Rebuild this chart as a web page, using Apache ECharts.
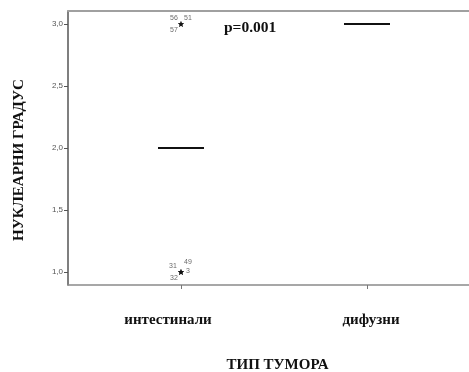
<!DOCTYPE html>
<html>
<head>
<meta charset="utf-8">
<script src="https://cdn.jsdelivr.net/npm/echarts@6/dist/echarts.min.js"></script>
<style>
  html, body { margin: 0; padding: 0; background: #fff; }
  #chart { width: 469px; height: 372px; }
</style>
</head>
<body>
<div id="chart"></div>
<script>
// Tumour type groups and their positions on the x scale
const categories = ['интестинали', 'дифузни'];
const categoryPos = [1, 2];

// Median nuclear grade per group (boxes collapse to the median: IQR = 0)
const medians = [2, 3];

// Extreme cases in the intestinal group: case number and grade
const outlierGroup = [1, 1, 1, 1, 1, 1, 1];
const outlierCases = ['56', '51', '57', '31', '49', '3', '32'];
const outlierValues = [3, 3, 3, 1, 1, 1, 1];

// Y tick values
const yTicks = [1.0, 1.5, 2.0, 2.5, 3.0];

const pLabel = 'p=0.001';

// pixel offsets of each case number around its asterisk
const caseLabelOffset = {
  '56': [-7, -6], '51': [7, -6], '57': [-7, 6],
  '31': [-8, -6], '49': [7, -10], '3': [7, -1], '32': [-7, 6]
};

const starPath = 'path://M50,0 L61,35 L98,35 L68,57 L79,91 L50,70 L21,91 L32,57 L2,35 L39,35 Z';

const serif = '"Liberation Serif", "Times New Roman", serif';
const sans = '"Liberation Sans", Arial, sans-serif';

const chart = echarts.init(document.getElementById('chart'), null, { renderer: 'canvas' });

const xMin = 0.3925, xMax = 2.5484;

chart.setOption({
  animation: false,
  backgroundColor: '#ffffff',
  title: {
    text: pLabel,
    left: 219, top: 15,
    textStyle: { fontFamily: serif, fontWeight: 'bold', fontSize: 15.5, color: '#111' }
  },
  grid: { left: 68, top: 11, right: 0, bottom: 87, outerBoundsMode: 'none', containLabel: false },
  xAxis: [{
    type: 'value',
    min: xMin, max: xMax,
    splitLine: { show: false },
    axisLine: { lineStyle: { color: '#8a8a8a', width: 1.5 } },
    axisTick: { customValues: categoryPos, length: 4, lineStyle: { color: '#777' } },
    axisLabel: {
      customValues: categoryPos,
      margin: 28,
      formatter: v => v === 1 ? '{a|' + categories[0] + '}' : '{b|' + categories[1] + '}',
      rich: {
        a: { fontFamily: serif, fontWeight: 'bold', fontSize: 15, color: '#111', padding: [0, 26, 0, 0] },
        b: { fontFamily: serif, fontWeight: 'bold', fontSize: 15, color: '#111', padding: [0, 0, 0, 8] }
      }
    },
    name: 'ТИП ТУМОРА',
    nameLocation: 'middle',
    nameGap: 73,
    nameTextStyle: { fontFamily: serif, fontWeight: 'bold', fontSize: 15, color: '#111', padding: [0, 0, 0, 18] }
  }, {
    type: 'value',
    position: 'top',
    min: xMin, max: xMax,
    splitLine: { show: false },
    axisLine: { lineStyle: { color: '#a0a0a0', width: 2 } },
    axisTick: { show: false },
    axisLabel: { show: false }
  }],
  yAxis: {
    type: 'value',
    min: 0.8952, max: 3.1048,
    splitLine: { show: false },
    axisLine: { show: true, lineStyle: { color: '#555', width: 1.5 } },
    axisTick: { show: true, customValues: yTicks, length: 4, lineStyle: { color: '#555' } },
    axisLabel: {
      customValues: yTicks,
      margin: 5,
      fontFamily: sans, fontSize: 8, color: '#555',
      formatter: v => v.toFixed(1).replace('.', ',')
    },
    name: 'НУКЛЕАРНИ ГРАДУС',
    nameLocation: 'middle',
    nameGap: 41,
    nameTextStyle: { fontFamily: serif, fontWeight: 'bold', fontSize: 15, color: '#111', padding: [0, 24, 0, 0] }
  },
  series: [{
    // collapsed boxes drawn as median bars
    type: 'custom',
    xAxisIndex: 0,
    data: categoryPos.map((x, i) => [x, medians[i]]),
    renderItem: (params, api) => {
      const c = api.coord([api.value(0), api.value(1)]);
      return {
        type: 'line',
        shape: { x1: c[0] - 23, y1: c[1], x2: c[0] + 23, y2: c[1] },
        style: { stroke: '#111', lineWidth: 2 }
      };
    }
  }, {
    // extreme cases marked by asterisks with their case numbers
    type: 'scatter',
    xAxisIndex: 0,
    symbol: starPath,
    symbolSize: 6,
    itemStyle: { color: '#111' },
    data: outlierCases.map((id, i) => ({
      value: [outlierGroup[i], outlierValues[i]],
      name: id,
      label: {
        show: true,
        position: 'inside',
        offset: caseLabelOffset[id],
        formatter: id,
        fontFamily: sans, fontSize: 7, color: '#444'
      }
    }))
  }]
});
</script>
</body>
</html>
